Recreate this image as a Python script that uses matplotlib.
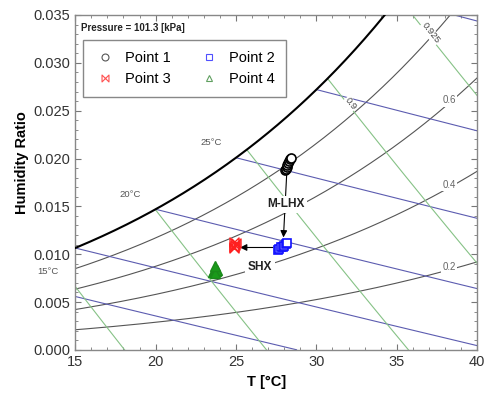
import numpy as np
import matplotlib
matplotlib.use("Agg")
import matplotlib.pyplot as plt
from matplotlib.path import Path
from matplotlib.lines import Line2D

plt.rcParams['font.family'] = ['Liberation Sans', 'DejaVu Sans']

# ---------------- data ----------------
pressure_kpa = 101.325
rh_levels = [0.2, 0.4, 0.6, 0.8]
rh_label_text = ['0.2', '0.4', '0.6']
rh_label_T = [38.25, 38.25, 38.25]
wetbulb_levels = [10, 15, 20, 25, 30, 35]
wb_label_text = ['15°C', '20°C', '25°C']
wb_label_T = [13.3, 18.4, 23.45]
wb_label_W = [0.0082, 0.0162, 0.0217]
volume_levels = [0.825, 0.85, 0.875, 0.9, 0.925]
vol_label_text = ['0.9', '0.925']
vol_label_T = [32.1, 37.1]
vol_label_W = [0.0257, 0.0331]

p1_T = [28.05, 28.1, 28.15, 28.2, 28.25, 28.3, 28.35, 28.4]
p1_W = [0.0188, 0.0189, 0.0191, 0.0193, 0.0195, 0.0197, 0.0199, 0.0201]
p2_T = [27.6, 27.7, 27.8, 27.9, 28.0, 28.1, 28.2]
p2_W = [0.0104, 0.0105, 0.0107, 0.0108, 0.0109, 0.0111, 0.0112]
p3_T = [24.85, 24.9, 24.95, 25.0, 24.9]
p3_W = [0.0106, 0.0108, 0.0110, 0.0112, 0.0113]
p4_T = [23.6, 23.65, 23.7, 23.75, 23.8, 23.7, 23.7]
p4_W = [0.0081, 0.0082, 0.0083, 0.0082, 0.0083, 0.0080, 0.0088]

mlhx_tail = (28.15, 0.0183)
mlhx_head = (27.95, 0.01175)
mlhx_text = (28.1, 0.0152)
shx_tail = (27.3, 0.0107)
shx_head = (25.25, 0.0107)
shx_text = (26.5, 0.0087)

x_ticks = [15, 20, 25, 30, 35, 40]
y_ticks = [0.000, 0.005, 0.010, 0.015, 0.020, 0.025, 0.030, 0.035]


# ---------------- psychrometric relations ----------------
def pws(t):
    tk = np.asarray(t, float) + 273.15
    ln = (-5.8002206e3 / tk + 1.3914993 - 4.8640239e-2 * tk + 4.1764768e-5 * tk**2
          - 1.4452093e-8 * tk**3 + 6.5459673 * np.log(tk))
    return np.exp(ln) / 1000.0


def w_from_rh(t, rh):
    pw = rh * pws(t)
    return 0.621945 * pw / (pressure_kpa - pw)


def w_from_wb(t, twb):
    wsstar = w_from_rh(twb, 1.0)
    return ((2501 - 2.326 * twb) * wsstar - 1.006 * (t - twb)) / (2501 + 1.86 * t - 4.186 * twb)


def t_from_v(v, w):
    return v * pressure_kpa / (0.287042 * (1 + 1.607858 * w)) - 273.15


fig = plt.figure(figsize=(4.85, 3.94), dpi=100)
ax = fig.add_axes([0.155, 0.112, 0.829, 0.850])

tgrid = np.linspace(10, 40, 400)

# saturation
ax.plot(tgrid, w_from_rh(tgrid, 1.0), color='black', lw=1.5, zorder=3)

# RH lines
for rh in rh_levels:
    ax.plot(tgrid, w_from_rh(tgrid, rh), color='#555555', lw=0.8, zorder=2)
for txt, tl in zip(rh_label_text, rh_label_T):
    rh = float(txt)
    ax.text(tl, w_from_rh(tl, rh) + 0.0003, txt, fontsize=7, color='#666666',
            ha='center', va='center',
            bbox=dict(facecolor='white', edgecolor='none', pad=1.0), zorder=4)

# wet bulb lines
for twb in wetbulb_levels:
    t = np.linspace(twb, 40, 300)
    w = w_from_wb(t, twb)
    m = w >= 0
    ax.plot(t[m], w[m], color='#5c5cb0', lw=0.8, zorder=2)
for txt, tl, wl in zip(wb_label_text, wb_label_T, wb_label_W):
    ax.text(tl, wl, txt, fontsize=6.8, color='#555555', ha='center', va='center',
            clip_on=False, zorder=4)

# specific volume lines
wgrid = np.linspace(0, 0.04, 400)
for v in volume_levels:
    t = t_from_v(v, wgrid)
    m = wgrid <= w_from_rh(t, 1.0)
    ax.plot(t[m], wgrid[m], color='#86c286', lw=0.8, zorder=2)
for txt, tl, wl in zip(vol_label_text, vol_label_T, vol_label_W):
    ax.text(tl, wl, txt, fontsize=6.8, color='#444444', ha='center', va='center',
            rotation=-52, rotation_mode='anchor',
            bbox=dict(facecolor='white', edgecolor='none', pad=0.5), zorder=4)

# bowtie marker
bowtie = Path([(-1, 1), (1, -1), (1, 1), (-1, -1), (-1, 1)],
              [Path.MOVETO, Path.LINETO, Path.LINETO, Path.LINETO, Path.CLOSEPOLY])

# points
ax.plot(p1_T, p1_W, ls='none', marker='o', ms=6.5, mfc='white', mec='black', mew=1.2, zorder=6)
ax.plot(p2_T, p2_W, ls='none', marker='s', ms=6, mfc='white', mec='#1010ff', mew=1.2, zorder=6)
ax.plot(p3_T, p3_W, ls='none', marker=bowtie, ms=6.5, mfc='none', mec='#ff2020', mew=1.0, zorder=6)
ax.plot(p4_T, p4_W, ls='none', marker='^', ms=6.5, mfc='#1a9a1a', mec='#1a8a1a', mew=1.0, zorder=6)

# arrows & labels
ax.annotate('', xy=mlhx_head, xytext=mlhx_tail,
            arrowprops=dict(arrowstyle='-|>', color='black', lw=0.8, mutation_scale=10,
                            shrinkA=0, shrinkB=0), zorder=5)
ax.text(*mlhx_text, 'M-LHX', fontsize=8.6, fontweight='bold', color='#222222', ha='center',
        va='center', bbox=dict(facecolor='white', edgecolor='none', pad=2), zorder=7)
ax.annotate('', xy=shx_head, xytext=shx_tail,
            arrowprops=dict(arrowstyle='-|>', color='black', lw=0.8, mutation_scale=10,
                            shrinkA=0, shrinkB=0), zorder=5)
ax.text(*shx_text, 'SHX', fontsize=8.6, fontweight='bold', color='#222222', ha='center',
        va='center', bbox=dict(facecolor='white', edgecolor='none', pad=2), zorder=7)

ax.text(0.015, 0.962, 'Pressure = 101.3 [kPa]', transform=ax.transAxes, fontsize=7,
        fontweight='bold', color='#222222', ha='left', va='center', zorder=7)

# legend
handles = [
    Line2D([], [], ls='none', marker='o', ms=5, mfc='none', mec='#555555', mew=0.8),
    Line2D([], [], ls='none', marker='s', ms=5, mfc='none', mec='#5050ff', mew=0.8),
    Line2D([], [], ls='none', marker=bowtie, ms=5, mfc='none', mec='#ff5050', mew=0.8),
    Line2D([], [], ls='none', marker='^', ms=5, mfc='none', mec='#60a060', mew=0.8),
]
labels = ['Point 1', 'Point 2', 'Point 3', 'Point 4']
order = [0, 2, 1, 3]
leg = ax.legend([handles[i] for i in order], [labels[i] for i in order], ncol=2,
                loc='upper left', bbox_to_anchor=(0.02, 0.925), fontsize=10.5,
                frameon=True, fancybox=False, edgecolor='#888888', framealpha=1,
                borderpad=0.75, labelspacing=0.5, columnspacing=1.9, handletextpad=0.6,
                handlelength=1.5, borderaxespad=0)
leg.get_frame().set_linewidth(1.0)
leg.set_zorder(8)

ax.set_xlim(15, 40)
ax.set_ylim(0, 0.035)
ax.set_xticks(x_ticks)
ax.set_xticklabels([str(v) for v in x_ticks])
ax.set_yticks(y_ticks)
ax.set_yticklabels([f'{v:.3f}' for v in y_ticks])
ax.set_xticks(np.arange(15, 41, 1), minor=True)
ax.set_yticks(np.arange(0, 0.0351, 0.001), minor=True)
ax.tick_params(which='both', direction='in', top=True, right=True, colors='#777777',
               labelcolor='#333333', labelsize=10.5)
ax.tick_params(which='major', length=4, width=0.8)
ax.tick_params(which='minor', length=2.5, width=0.6)
for s in ax.spines.values():
    s.set_color('#888888')
    s.set_linewidth(1.0)

ax.set_xlabel('T [°C]', fontsize=10.5, fontweight='bold')
ax.set_ylabel('Humidity Ratio', fontsize=10.5, fontweight='bold')
ax.xaxis.set_label_coords(0.475, -0.075)
ax.yaxis.set_label_coords(-0.115, 0.558)

fig.savefig('out.png', dpi=100)
